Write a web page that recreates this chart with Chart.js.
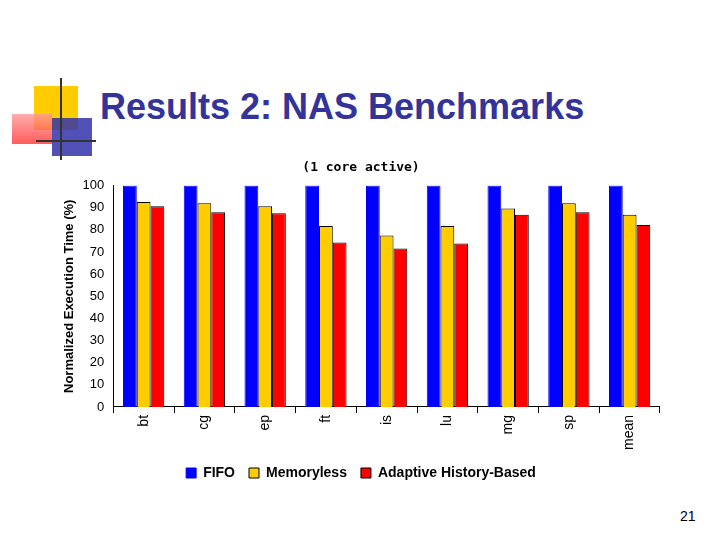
<!DOCTYPE html>
<html><head><script src="https://cdn.jsdelivr.net/npm/chart.js@4"></script>
<style>body{margin:0;width:720px;height:540px;background:#fff;position:relative;overflow:hidden;font-family:Arial,"Liberation Sans",sans-serif}
#t{position:absolute;left:100px;top:86px;font-size:36px;font-weight:bold;color:#333399}
#n{position:absolute;left:680px;top:508px;font-size:14px}
.sq{position:absolute}
#c{position:absolute;left:60px;top:160px}</style></head><body>
<div class="sq" style="left:34px;top:86px;width:44px;height:44px;background:#ffcc00"></div>
<div class="sq" style="left:12px;top:114px;width:40px;height:30px;background:linear-gradient(#ff9999,#ff3333);opacity:.8"></div>
<div class="sq" style="left:52px;top:118px;width:40px;height:38px;background:#3333aa;opacity:.85"></div>
<div class="sq" style="left:60px;top:78px;width:2px;height:82px;background:#333"></div>
<div class="sq" style="left:36px;top:140px;width:60px;height:2px;background:#333"></div>
<div id="t">Results 2: NAS Benchmarks</div>
<div id="n">21</div>
<canvas id="c" width="600" height="330"></canvas>
<script>
const categories=["bt","cg","ep","ft","is","lu","mg","sp","mean"];
const fifo=[100,100,100,100,100,100,100,100,100];
const memoryless=[92.6,92,90.7,81.7,77.5,81.7,89.6,92,86.8];
const adaptive=[90.7,88,87.5,74.3,71.6,73.8,86.8,88,82.2];
Chart.defaults.font.family="Arial, 'Liberation Sans', sans-serif";
Chart.defaults.color="#000";
new Chart(document.getElementById('c'),{type:'bar',
data:{labels:categories,datasets:[
{label:'FIFO',data:fifo,backgroundColor:'#0000ff',borderColor:'#0000ff',borderWidth:1},
{label:'Memoryless',data:memoryless,backgroundColor:'#ffcc00',borderColor:'#000',borderWidth:1},
{label:'Adaptive History-Based',data:adaptive,backgroundColor:'#ff0000',borderColor:'#000',borderWidth:1}]},
options:{responsive:false,animation:false,
layout:{padding:{right:-2,left:0}},
datasets:{bar:{categoryPercentage:0.68,barPercentage:1}},
plugins:{title:{display:true,text:'(1 core active)',font:{size:13,weight:'bold',family:'DejaVu Sans Mono, monospace'},padding:{top:0,bottom:10}},
legend:{position:'bottom',labels:{boxWidth:10,boxHeight:10,font:{size:14,weight:'bold'},padding:14}},tooltip:{enabled:false}},
scales:{y:{min:0,max:100,ticks:{stepSize:10,font:{size:13}},grid:{display:false,drawTicks:true,tickLength:6},border:{color:'#000'},
title:{display:true,text:'Normalized Execution Time (%)',font:{size:13,weight:'bold'},padding:2}},
x:{ticks:{minRotation:90,maxRotation:90,font:{size:14},padding:2},grid:{display:true,drawOnChartArea:false,offset:true,tickLength:6,color:'#000'},border:{color:'#000'}}}}});
</script></body></html>
